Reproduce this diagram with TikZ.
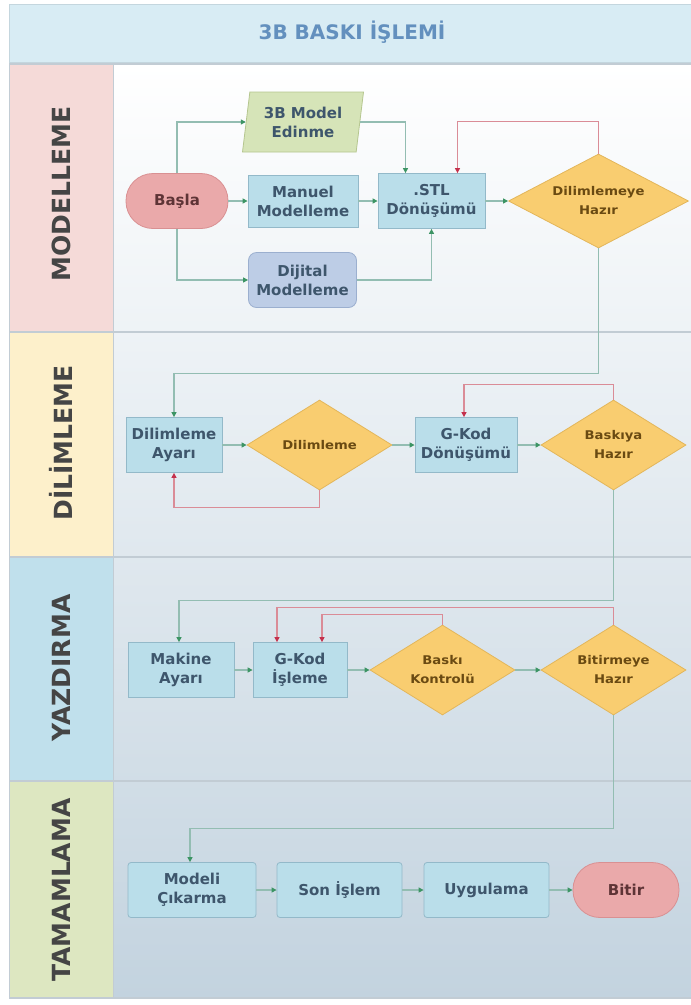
\documentclass[tikz,border=0pt]{standalone}
\usepackage{fontspec}
\setsansfont{DejaVu Sans}
\newfontfamily\widesans{DejaVu Sans}[FakeStretch=1.1]
\usetikzlibrary{arrows.meta,shapes.geometric}
\definecolor{titlefill}{HTML}{D8ECF4}
\definecolor{titleline}{HTML}{C4D6DE}
\definecolor{titleink}{HTML}{6390BE}
\definecolor{laneend}{HTML}{C3D3DF}
\definecolor{sepline}{HTML}{C2CCD4}
\definecolor{headink}{HTML}{454545}
\definecolor{modelfill}{HTML}{F5DAD8}
\definecolor{dilimfill}{HTML}{FDF0CB}
\definecolor{yazdirfill}{HTML}{C0E0EC}
\definecolor{tamamfill}{HTML}{DDE7C1}
\definecolor{procfill}{HTML}{BADEEA}
\definecolor{procline}{HTML}{93B9C9}
\definecolor{boxink}{HTML}{3E566C}
\definecolor{termfill}{HTML}{EAA9AA}
\definecolor{termline}{HTML}{D99092}
\definecolor{termink}{HTML}{5E3436}
\definecolor{decfill}{HTML}{F9CD70}
\definecolor{decline}{HTML}{E3B65A}
\definecolor{decink}{HTML}{6A4A12}
\definecolor{infill}{HTML}{D6E4B8}
\definecolor{inline}{HTML}{B5C68F}
\definecolor{dijfill}{HTML}{BDCDE6}
\definecolor{dijline}{HTML}{9BAFCF}
\definecolor{flowline}{HTML}{93BDB2}
\definecolor{flowtip}{HTML}{3C9464}
\definecolor{backline}{HTML}{DA8C97}
\definecolor{backtip}{HTML}{C4304C}

\begin{document}
\begin{tikzpicture}[
  x=1pt,
  y=-1pt,
  every node/.style={font=\sffamily\bfseries\fontsize{15}{19}\selectfont,
                     align=center, inner sep=2pt},
  lanehead/.style={rotate=90, text=headink,
                   font=\sffamily\bfseries\fontsize{25}{28}\selectfont},
  procbox/.style={rectangle, draw=procline, fill=procfill, line width=0.8pt,
                  text=boxink, minimum width=108pt, minimum height=55pt},
  termbox/.style={rectangle, rounded corners=27pt, draw=termline,
                  fill=termfill, line width=0.8pt, text=termink,
                  minimum width=102pt, minimum height=55pt},
  dijbox/.style={rectangle, rounded corners=8pt, draw=dijline, fill=dijfill,
                 line width=0.8pt, text=boxink, minimum width=108pt,
                 minimum height=55pt},
  inputbox/.style={trapezium, trapezium left angle=78,
                   trapezium right angle=102, trapezium stretches body,
                   draw=inline, fill=infill, line width=0.8pt, text=boxink,
                   minimum width=121pt, minimum height=60pt},
  decide/.style={diamond, aspect=2, draw=decline, fill=decfill,
                 line width=0.8pt, text=decink, inner sep=0pt,
                 minimum width=145pt, minimum height=90pt,
                 font=\widesans\bfseries\fontsize{12}{19}\selectfont},
  flow/.style={flowline, line width=1.2pt,
               -{Triangle[length=5pt, width=5pt, color=flowtip]}},
  back/.style={backline, line width=1.2pt,
               -{Triangle[length=5pt, width=5pt, color=backtip]}}
]
  \useasboundingbox (0,0) rectangle (691,1005);

  % ---- title band ----
  \fill[white] (0,0) rectangle (691,1005);
  \draw[titleline, fill=titlefill, line width=1pt] (9,4) rectangle (691,62);
  \node[text=titleink, font=\sffamily\bfseries\fontsize{20}{24}\selectfont]
    (title) at (352,32) {3B BASKI İŞLEMİ};

  % ---- lane bodies and headers ----
  \shade[top color=white, bottom color=laneend] (113,64) rectangle (691,998);
  \fill[modelfill]  (9,64)  rectangle (113,332);
  \fill[dilimfill]  (9,332) rectangle (113,557);
  \fill[yazdirfill] (9,557) rectangle (113,781);
  \fill[tamamfill]  (9,781) rectangle (113,998);
  \foreach \y in {64,332,557,781,998}
    \draw[sepline, line width=1.5pt] (9,\y) -- (691,\y);
  \draw[sepline, line width=1pt] (9,64) -- (9,998);
  \draw[sepline, line width=1pt] (113,64) -- (113,998);

  \node[lanehead] (lmodel)  at (61,194) {MODELLEME};
  \node[lanehead] (ldilim)  at (61,443) {DİLİMLEME};
  \node[lanehead] (lyazdir) at (61,668) {YAZDIRMA};
  \node[lanehead] (ltamam)  at (61,890) {TAMAMLAMA};

  % ---- modelleme ----
  \node[inputbox] (edinme) at (303,122) {3B Model\\Edinme};
  \node[termbox] (basla) at (177,201) {Başla};
  \node[procbox, minimum width=110pt, minimum height=52pt]
    (manuel) at (303,201) {Manuel\\Modelleme};
  \node[procbox, minimum width=107pt] (stl) at (431.5,201) {.STL\\Dönüşümü};
  \node[decide, minimum width=180pt, minimum height=94pt]
    (dilhazir) at (598.5,201) {Dilimlemeye\\Hazır};
  \node[dijbox] (dijital) at (302.5,280) {Dijital\\Modelleme};

  % ---- dilimleme ----
  \node[procbox, minimum width=96pt] (dilayar) at (174,445) {Dilimleme\\Ayarı};
  \node[decide] (dilimle) at (319.5,445) {Dilimleme};
  \node[procbox, minimum width=102pt] (gkoddon) at (466,445) {G-Kod\\Dönüşümü};
  \node[decide] (baskhazir) at (613.5,445) {Baskıya\\Hazır};

  % ---- yazdirma ----
  \node[procbox, minimum width=106pt] (makine) at (181,670) {Makine\\Ayarı};
  \node[procbox, minimum width=94pt] (gkodisle) at (300,670) {G-Kod\\İşleme};
  \node[decide] (kontrol) at (442.5,670) {Baskı\\Kontrolü};
  \node[decide] (bithazir) at (613.5,670) {Bitirmeye\\Hazır};

  % ---- tamamlama ----
  \node[procbox, minimum width=128pt, rounded corners=3pt]
    (cikar) at (192,890) {Modeli\\Çıkarma};
  \node[procbox, minimum width=125pt, rounded corners=3pt]
    (sonislem) at (339.5,890) {Son İşlem};
  \node[procbox, minimum width=125pt, rounded corners=3pt]
    (uygula) at (486.5,890) {Uygulama};
  \node[termbox, minimum width=106pt] (bitir) at (626,890) {Bitir};

  % ---- connectors, modelleme ----
  \draw[flow] (basla.north) |- (edinme.west);
  \draw[flow] (basla.south) |- (dijital.west);
  \draw[flow] (basla.east) -- (manuel.west);
  \draw[flow] (manuel.east) -- (stl.west);
  \draw[flow] (edinme.east) -| ([xshift=-26pt]stl.north);
  \draw[flow] (dijital.east) -| (stl.south);
  \draw[flow] (stl.east) -- (dilhazir.west);
  \draw[back] (dilhazir.north) -- ++(0,-32) -| ([xshift=26pt]stl.north);
  \draw[flow] (dilhazir.south) -- ++(0,125) -| (dilayar.north);

  % ---- connectors, dilimleme ----
  \draw[flow] (dilayar.east) -- (dilimle.west);
  \draw[flow] (dilimle.east) -- (gkoddon.west);
  \draw[flow] (gkoddon.east) -- (baskhazir.west);
  \draw[back] (dilimle.south) -- ++(0,17) -| (dilayar.south);
  \draw[back] (baskhazir.north) -- ++(0,-15) -| ([xshift=-2pt]gkoddon.north);
  \draw[flow] (baskhazir.south) -- ++(0,110) -| ([xshift=-2pt]makine.north);

  % ---- connectors, yazdirma ----
  \draw[flow] (makine.east) -- (gkodisle.west);
  \draw[flow] (gkodisle.east) -- (kontrol.west);
  \draw[flow] (kontrol.east) -- (bithazir.west);
  \draw[back] (bithazir.north) -- ++(0,-17) -| ([xshift=-23pt]gkodisle.north);
  \draw[back] (kontrol.north) -- ++(0,-10) -| ([xshift=22pt]gkodisle.north);
  \draw[flow] (bithazir.south) -- ++(0,113) -| ([xshift=-2pt]cikar.north);

  % ---- connectors, tamamlama ----
  \draw[flow] (cikar.east) -- (sonislem.west);
  \draw[flow] (sonislem.east) -- (uygula.west);
  \draw[flow] (uygula.east) -- (bitir.west);
\end{tikzpicture}
\end{document}
